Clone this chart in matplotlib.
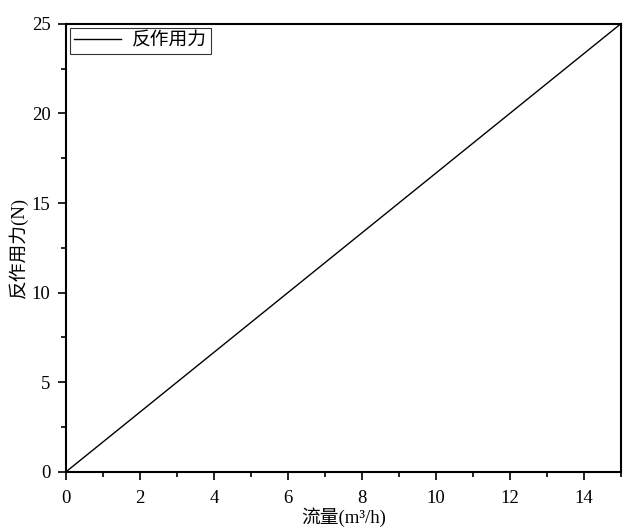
import matplotlib
matplotlib.use('Agg')
import matplotlib.pyplot as plt
from matplotlib.ticker import MultipleLocator

plt.rcParams['font.family'] = ['Liberation Serif', 'Noto Sans CJK SC']

flow = [0, 15]
force = [0, 25]

fig = plt.figure(figsize=(6.4, 5.29), dpi=100)
ax = fig.add_axes([0.103, 0.108, 0.867, 0.847])
ax.plot(flow, force, color='black', linewidth=1.0, label='反作用力')

ax.set_xlim(0, 15)
ax.set_ylim(0, 25)
ax.xaxis.set_major_locator(MultipleLocator(2))
ax.xaxis.set_minor_locator(MultipleLocator(1))
ax.yaxis.set_major_locator(MultipleLocator(5))
ax.yaxis.set_minor_locator(MultipleLocator(2.5))
ax.tick_params(which='both', direction='out', top=False, right=False, labelsize=13.5, width=1.2)
ax.tick_params(which='major', length=6)
ax.tick_params(which='minor', length=3.5)
ax.tick_params(axis='x', pad=7)
ax.tick_params(axis='y', pad=5)
for s in ax.spines.values():
    s.set_linewidth(1.5)

ax.set_xlabel('流量(m³/h)', fontsize=13.5, labelpad=0)
ax.set_ylabel('反作用力(N)', fontsize=13.5, labelpad=3)

leg = ax.legend(loc='upper left', fontsize=13.5, fancybox=False, edgecolor='black',
                borderaxespad=0.2, handlelength=2.5, handletextpad=0.55, borderpad=0.25)
leg.get_frame().set_linewidth(0.8)

fig.savefig('out.png', dpi=100)
